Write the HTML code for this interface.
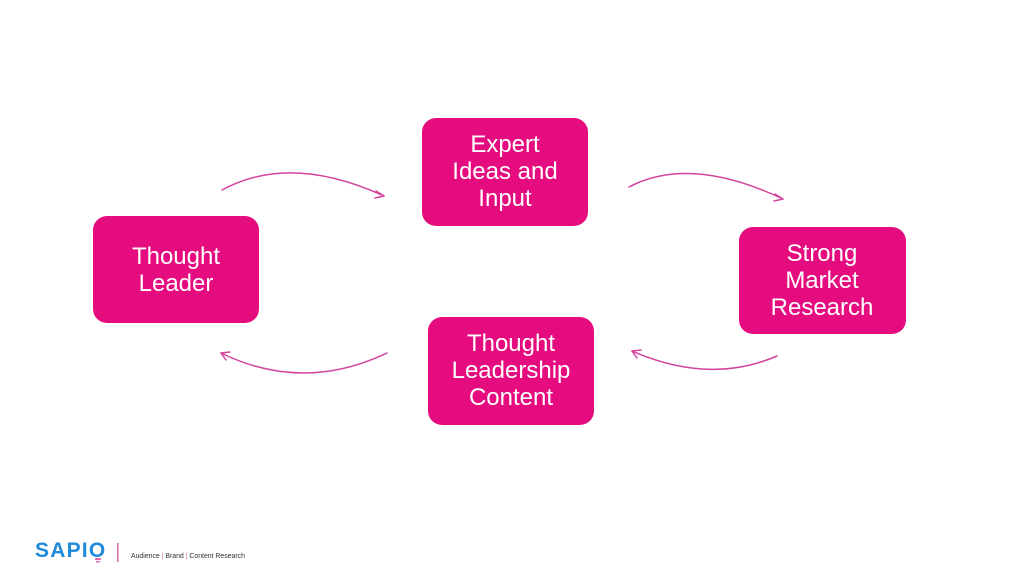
<!DOCTYPE html>
<html>
<head>
<meta charset="utf-8">
<style>
html,body{margin:0;padding:0;background:#fff;}
svg{display:block;}
.t{font-family:"Liberation Sans",Arial,sans-serif;font-size:24px;fill:#fff;text-anchor:middle;}
</style>
</head>
<body>
<svg width="1024" height="576" viewBox="0 0 1024 576" xmlns="http://www.w3.org/2000/svg">
<rect width="1024" height="576" fill="#fff"/>
<g fill="#E40C7E">
<rect x="422" y="118" width="166" height="108" rx="14"/>
<rect x="93" y="216" width="166" height="107" rx="14"/>
<rect x="739" y="227" width="167" height="107" rx="14"/>
<rect x="428" y="317" width="166" height="108" rx="14"/>
</g>
<text class="t" x="505" y="152">Expert</text>
<text class="t" x="505" y="179">Ideas and</text>
<text class="t" x="505" y="206">Input</text>
<text class="t" x="176" y="264">Thought</text>
<text class="t" x="176" y="291">Leader</text>
<text class="t" x="822" y="261">Strong</text>
<text class="t" x="822" y="288">Market</text>
<text class="t" x="822" y="315">Research</text>
<text class="t" x="511" y="351">Thought</text>
<text class="t" x="511" y="378">Leadership</text>
<text class="t" x="511" y="405">Content</text>
<g fill="none" stroke="#D4449C" stroke-width="1.5" stroke-linecap="round" stroke-linejoin="round">
<path d="M222 190 Q290 153 384 196"/>
<path d="M376 191 L384 196 L375 198"/>
<path d="M629 187 Q690 155 783 199"/>
<path d="M775 194 L783 199 L774 201"/>
<path d="M387 353 Q303 393 221 353"/>
<path d="M230 352 L221 353 L226 360"/>
<path d="M777 356 Q710 385 632 351"/>
<path d="M641 350 L632 351 L637 358"/>
</g>
<text x="35" y="557" font-family="Liberation Sans,Arial,sans-serif" font-weight="bold" font-size="21" fill="#1F8BDA" letter-spacing="1.2">SAPIO</text>
<rect x="95" y="558" width="6" height="2" fill="#E06AB0"/>
<rect x="96" y="561" width="4" height="1.5" fill="#E06AB0"/>
<rect x="117" y="543" width="1.5" height="19" fill="#D66AAE"/>
<text x="131" y="558" font-family="Liberation Sans,Arial,sans-serif" font-size="6.9" fill="#333">Audience <tspan fill="#D66AAE">|</tspan> Brand <tspan fill="#D66AAE">|</tspan> Content Research</text>
</svg>
</body>
</html>
